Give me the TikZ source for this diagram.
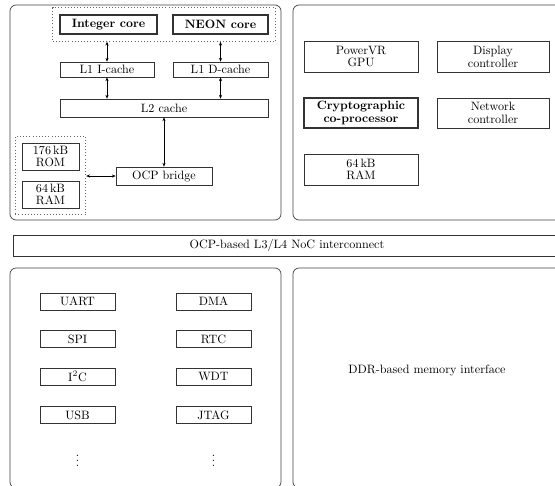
\documentclass[tikz,border=0pt]{standalone}
\usepackage{tikz}
\usetikzlibrary{arrows.meta,positioning,fit}
\tikzset{
  >={Stealth[length=3.2pt,width=2.6pt]},
  spanel/.style={draw=black!75, line width=0.6pt, rounded corners=5pt},
  sbox/.style={draw=black!80, line width=0.5pt, align=center, inner sep=1pt,
               font=\fontsize{10}{10.5}\selectfont},
  score/.style={sbox, line width=1.4pt, font=\fontsize{10}{10.5}\selectfont\bfseries},
  sgroup/.style={draw=black!60, dotted, line width=0.6pt, inner sep=6.5*0.825pt},
  slink/.style={<->, line width=0.5pt},
  sz/.style 2 args={minimum width=#1*0.825pt, minimum height=#2*0.825pt},
}

\begin{document}
\begin{tikzpicture}[x=0.825pt,y=-0.825pt]
  \useasboundingbox (0,0) rectangle (555,485);

  % panels
  \draw[spanel] (10,5) rectangle (281,220);
  \draw[spanel] (293,5) rectangle (563,220);
  \draw[spanel] (10,268) rectangle (281,488);
  \draw[spanel] (293,268) rectangle (563,488);

  % processor
  \node[score, sz={97}{19}] (int)  at (108.5,24.5) {Integer core};
  \node[score, sz={95}{19}] (neon) at (220.5,24.5) {NEON core};
  \node[sgroup, fit=(int) (neon)] (cores) {};
  \node[sbox, sz={94}{15}] (icache) at (107,69.5) {L1 I-cache};
  \node[sbox, sz={95}{15}] (dcache) at (220.5,69.5) {L1 D-cache};
  \node[sbox, sz={208}{18}] (l2) at (164,108) {L2 cache};
  \node[sbox, sz={96}{18}] (ocp) at (164,176) {OCP bridge};
  \node[sbox, sz={57}{27}] (rom) at (50.5,156.5) {176\,kB\\ROM};
  \node[sbox, sz={57}{27}] (ram) at (50.5,194.5) {64\,kB\\RAM};
  \node[sgroup, fit=(rom) (ram)] (mem) {};

  \draw[slink] (icache |- cores.south) -- (icache);
  \draw[slink] (dcache |- cores.south) -- (dcache);
  \draw[slink] (icache) -- (icache |- l2.north);
  \draw[slink] (dcache) -- (dcache |- l2.north);
  \draw[slink] (ocp |- l2.south) -- (ocp);
  \draw[slink] (mem.east |- ocp) -- (ocp);

  % on-chip units
  \node[sbox, sz={114}{31}] (gpu) at (361,56.5) {PowerVR\\GPU};
  \node[sbox, sz={112}{31}] (disp) at (493,56.5) {Display\\controller};
  \node[score, sz={114}{30}] (crypto) at (361,113) {Cryptographic\\co-processor};
  \node[sbox, sz={112}{30}] (net) at (493,113) {Network\\controller};
  \node[sbox, sz={114}{31}] (sram) at (361,169.5) {64\,kB\\RAM};

  % interconnect
  \node[sbox, sz={548}{21}] (noc) at (287,245.5) {OCP-based L3/L4 NoC interconnect};

  % peripherals
  \foreach \name/\lbl/\x/\y in {uart/UART/77.5/301.5, spi/SPI/77.5/339,
      iic/I\textsuperscript{2}C/77.5/376.5, usb/USB/77.5/415,
      dma/DMA/213.5/301.5, rtc/RTC/213.5/339, wdt/WDT/213.5/376.5,
      jtag/JTAG/213.5/415}
    \node[sbox, sz={75}{17}] (\name) at (\x,\y) {\lbl};
  \node (moreleft)  at (77.5,457)  {$\vdots$};
  \node (moreright) at (213.5,457) {$\vdots$};

  % memory interface
  \node (ddr) at (427,370) {DDR-based memory interface};

\end{tikzpicture}
\end{document}
